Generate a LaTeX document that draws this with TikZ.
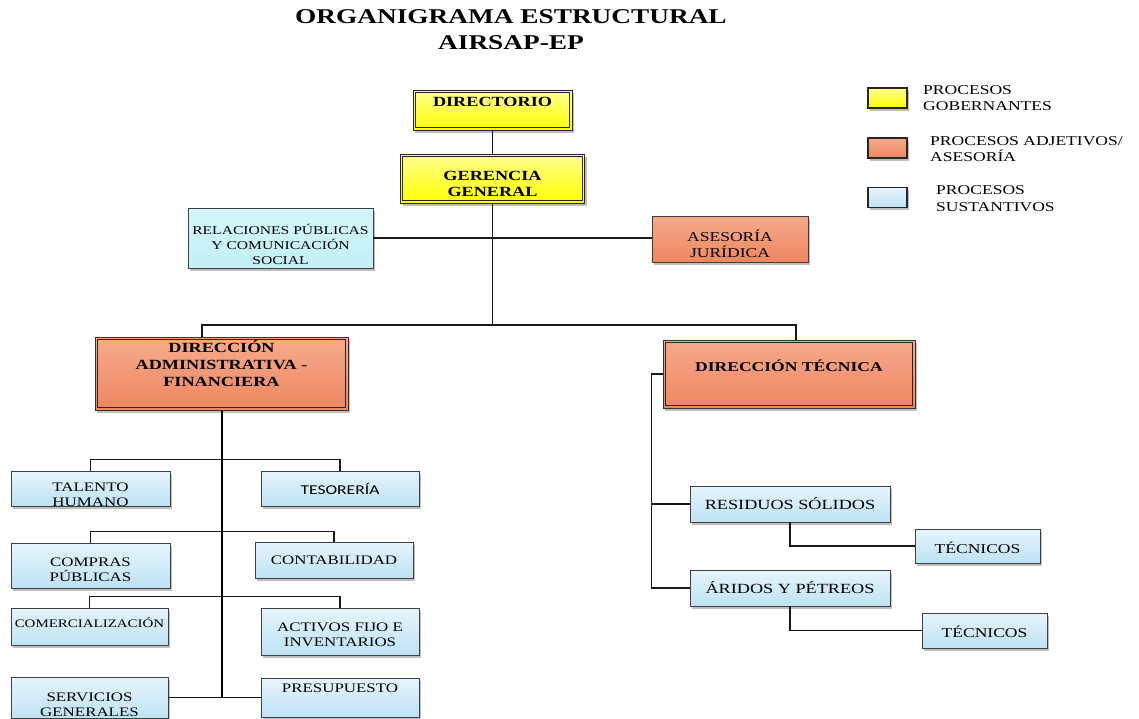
\documentclass[tikz,border=0pt]{standalone}
\usepackage{fontspec}
\setmainfont{Liberation Serif}[FakeStretch=1.3]
\newfontfamily\sansc{Carlito}[FakeStretch=1.3]
\usetikzlibrary{shadows}
\definecolor{ytop}{HTML}{FFFF90}
\definecolor{ybot}{HTML}{FFFF00}
\definecolor{otop}{HTML}{F6AA8C}
\definecolor{obot}{HTML}{EF8660}
\definecolor{ctop}{HTML}{D4F8FB}
\definecolor{cbot}{HTML}{C2F0F5}
\definecolor{btop}{HTML}{E6F5FD}
\definecolor{bbot}{HTML}{BEE2F4}
\tikzset{
  shd/.style={drop shadow={shadow xshift=2pt,shadow yshift=-2.5pt,fill=black!55,opacity=0.45}},
  box/.style={rectangle, inner sep=0pt, shd},
  inner/.style={draw=black!85, line width=0.6pt},
  yb/.style={box, top color=ytop, bottom color=ybot, draw=black!85, line width=0.9pt},
  obd/.style={box, top color=otop, bottom color=obot, draw=black!80, line width=0.9pt},
  ob/.style={box, top color=otop, bottom color=obot, draw=black!75, line width=0.8pt},
  cb/.style={box, top color=ctop, bottom color=cbot, draw=black!75, line width=0.8pt},
  bb/.style={box, top color=btop, bottom color=bbot, draw=black!75, line width=0.8pt},
  lg/.style={box, draw=black!85, line width=1.6pt},
  tx/.style={align=center, inner sep=0pt, font=\fontsize{13}{15}\selectfont},
  txb/.style={align=center, inner sep=0pt, font=\bfseries\fontsize{14}{16.5}\selectfont},
  lt/.style={align=left, inner sep=0pt, anchor=west, font=\fontsize{13.5}{16.5}\selectfont},
  con/.style={draw=black!90, line width=1.2pt},
  trunk/.style={draw=black, line width=2pt},
}
\begin{document}
\begin{tikzpicture}[x=1pt,y=-1pt]
\useasboundingbox (0,0) rectangle (1139,718);
\fill[white] (0,0) rectangle (1139,718);
% title
\node[align=center, inner sep=0pt, font=\bfseries\fontsize{21}{26}\selectfont] (title) at (511,30) {ORGANIGRAMA ESTRUCTURAL\\AIRSAP-EP};
% legend
\node[lg, top color=ytop, bottom color=ybot, minimum width=39, minimum height=20] (lg1) at (887.5,98) {};
\node[lg, top color=otop, bottom color=obot, minimum width=39, minimum height=20] (lg2) at (887.5,148) {};
\node[lg, top color=btop, bottom color=bbot, minimum width=39, minimum height=20] (lg3) at (887.5,197.5) {};
\node[lt] (lt1) at (923,98) {PROCESOS\\GOBERNANTES};
\node[lt] (lt2) at (930,149) {PROCESOS ADJETIVOS/\\ASESORÍA};
\node[lt] (lt3) at (936,198.5) {PROCESOS\\SUSTANTIVOS};
% top boxes
\node[yb, minimum width=159, minimum height=40] (dir) at (492.5,110) {};
\node[yb, minimum width=184, minimum height=49] (ger) at (492.5,178.5) {};
\node[cb, minimum width=185, minimum height=60, label={[tx,font=\fontsize{12}{15}\selectfont,yshift=-6pt]center:RELACIONES PÚBLICAS\\Y COMUNICACIÓN\\SOCIAL}] (rp) at (280.5,238) {};
\node[ob, minimum width=156, minimum height=46, label={[tx,font=\fontsize{13.5}{16}\selectfont,yshift=-5pt]center:ASESORÍA\\JURÍDICA}] (ase) at (730,239) {};
% directions
\node[obd, minimum width=253, minimum height=73] (dadm) at (221.5,373.5) {};
\node[obd, minimum width=252, minimum height=68] (dtec) at (789,374) {};
% inner lines of the double borders
\foreach \n in {dir,ger,dadm,dtec}
  \draw[inner] ([shift={(2.7pt,-2.7pt)}]\n.north west) rectangle ([shift={(-2.7pt,2.7pt)}]\n.south east);
% texts of the double-bordered boxes
\node[txb, yshift=8pt] (dirt) at (dir.center) {DIRECTORIO};
\node[txb, yshift=-5.5pt] (gert) at (ger.center) {GERENCIA\\GENERAL};
\node[txb, font=\bfseries\fontsize{14}{17}\selectfont, yshift=9.5pt] (dadmt) at (dadm.center) {DIRECCIÓN\\ADMINISTRATIVA -\\FINANCIERA};
\node[txb, font=\bfseries\fontsize{13.5}{16}\selectfont, yshift=8pt] (dtect) at (dtec.center) {DIRECCIÓN TÉCNICA};
% administrative units
\node[bb, minimum width=159, minimum height=35, label={[tx,yshift=-6pt]center:TALENTO\\HUMANO}] (th) at (90.5,488.5) {};
\node[bb, minimum width=158, minimum height=35, label={[tx,font=\sansc\fontsize{13.5}{15}\selectfont]center:TESORERÍA}] (tes) at (340,488.5) {};
\node[bb, minimum width=159, minimum height=45, label={[tx,yshift=-4.5pt]center:COMPRAS\\PÚBLICAS}] (com) at (90.5,565.5) {};
\node[bb, minimum width=158, minimum height=36, label={[tx]center:CONTABILIDAD}] (cont) at (334,560) {};
\node[bb, minimum width=157, minimum height=37, label={[tx,font=\fontsize{11.5}{14}\selectfont,yshift=3.5pt]center:COMERCIALIZACIÓN}] (comer) at (89.5,626.5) {};
\node[bb, minimum width=158, minimum height=47, label={[tx,yshift=-3.5pt]center:ACTIVOS FIJO E\\INVENTARIOS}] (act) at (340,631.5) {};
\node[bb, minimum width=157, minimum height=41, label={[tx,yshift=-7.5pt]center:SERVICIOS\\GENERALES}] (sg) at (89.5,697.5) {};
\node[bb, minimum width=158, minimum height=39, label={[tx,yshift=9.5pt]center:PRESUPUESTO}] (pre) at (340,697.5) {};
% technical units
\node[bb, minimum width=200, minimum height=36, label={[tx,font=\fontsize{14}{16}\selectfont]center:RESIDUOS SÓLIDOS}] (res) at (790,504) {};
\node[bb, minimum width=200, minimum height=36, label={[tx,font=\fontsize{14}{16}\selectfont]center:ÁRIDOS Y PÉTREOS}] (ari) at (790,588) {};
\node[bb, minimum width=125, minimum height=34, label={[tx,font=\fontsize{13.5}{16}\selectfont,yshift=-2pt]center:TÉCNICOS}] (tec1) at (977.5,546) {};
\node[bb, minimum width=125, minimum height=35, label={[tx,font=\fontsize{13.5}{16}\selectfont,yshift=-1.5pt]center:TÉCNICOS}] (tec2) at (984.5,630.5) {};
% connectors
\coordinate (b1) at (202,325);
\coordinate (b2) at (796,325);
\draw[con] (dir.south) -- (dir.south |- ger.north);
\draw[con] (rp.east) -- (rp.east -| ase.west);
\draw[con] (ger.south) -- (ger.south |- b1);
\draw[con] (b1 |- dadm.north) -- (b1) -- (b2) -- (b2 |- dtec.north);
\draw[trunk] (dadm.south) -- (dadm.south |- sg.east);
\draw[con] (sg.east) -- (pre.west);
\draw[con] (th.north) -- ++(0,-11) -| (tes.north);
\draw[con] (com.north) -- ++(0,-11) -| (cont.north);
\draw[con] (comer.north) -- ++(0,-11) -| (act.north);
\draw[con] (dtec.west) -- ++(-11,0) coordinate (tv) |- (ari.west);
\draw[con] (tv |- res.west) -- (res.west);
\draw[con] (res.south) |- (tec1.west);
\draw[con] (ari.south) |- (tec2.west);
\end{tikzpicture}
\end{document}
